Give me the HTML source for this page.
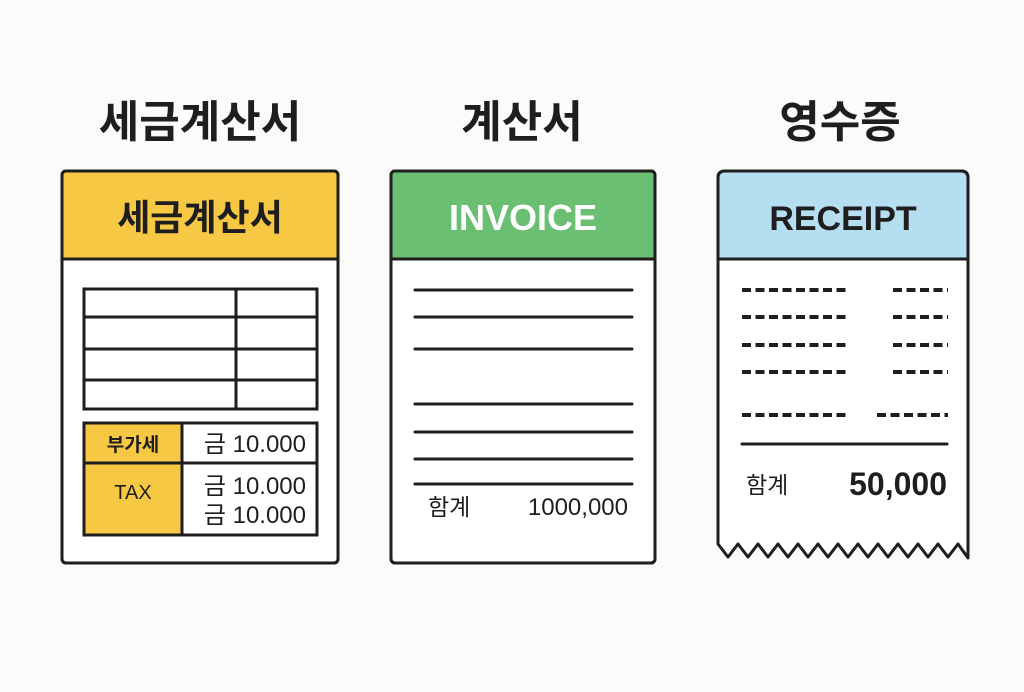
<!DOCTYPE html>
<html><head><meta charset="utf-8"><style>
html,body{margin:0;padding:0;background:#fbfbf9;}
svg{display:block;}
text{font-family:"Liberation Sans","Noto Sans CJK KR",sans-serif;fill:#1e1e1e;}
</style></head><body>
<svg width="1024" height="692" viewBox="0 0 1024 692">
<rect width="1024" height="692" fill="#fbfbf9"/>
<g font-weight="bold" font-size="44" text-anchor="middle">
<text x="200" y="137">세금계산서</text>
<text x="522" y="137">계산서</text>
<text x="840" y="137">영수증</text>
</g>
<g stroke="#1e1e1e" stroke-width="3" stroke-linecap="round">
<rect x="62" y="171" width="276" height="392" rx="4" fill="#fff"/>
<path d="M63.5 172.5 H336.5 V259 H63.5 Z" fill="#f7c843" stroke="none"/>
<rect x="62" y="171" width="276" height="392" rx="4" fill="none"/>
<line x1="62" y1="259" x2="338" y2="259"/>
<rect x="84" y="289" width="233" height="120" fill="none"/>
<line x1="236" y1="289" x2="236" y2="409"/>
<line x1="84" y1="317" x2="317" y2="317"/>
<line x1="84" y1="349" x2="317" y2="349"/>
<line x1="84" y1="380" x2="317" y2="380"/>
<rect x="84" y="423" width="98" height="112" fill="#f7c843"/>
<rect x="84" y="423" width="233" height="112" fill="none"/>
<line x1="182" y1="423" x2="182" y2="535"/>
<line x1="84" y1="463" x2="317" y2="463"/>
<rect x="391" y="171" width="264" height="392" rx="4" fill="#fff"/>
<rect x="392.5" y="172.5" width="261" height="86.5" fill="#6bbf72" stroke="none"/>
<rect x="391" y="171" width="264" height="392" rx="4" fill="none"/>
<line x1="391" y1="259" x2="655" y2="259"/>
<line x1="415" y1="290" x2="632" y2="290"/>
<line x1="415" y1="317" x2="632" y2="317"/>
<line x1="415" y1="349" x2="632" y2="349"/>
<line x1="415" y1="404" x2="632" y2="404"/>
<line x1="415" y1="432" x2="632" y2="432"/>
<line x1="415" y1="459" x2="632" y2="459"/>
<line x1="415" y1="484" x2="632" y2="484"/>
<path d="M718 178 Q718 171 725 171 H961 Q968 171 968 178 V558 L958 544 L948 557 L938 544 L928 557 L918 544 L908 557 L898 544 L888 557 L878 544 L868 557 L858 544 L848 557 L838 544 L828 557 L818 544 L808 557 L798 544 L788 557 L778 544 L768 557 L758 544 L748 557 L738 544 L728 557 L718 544 Z" fill="#fff" stroke-linejoin="round"/>
<path d="M719.5 172.5 H966.5 V259 H719.5 Z" fill="#b5dff0" stroke="none"/>
<path d="M718 259 V178 Q718 171 725 171 H961 Q968 171 968 178 V259 Z" fill="none"/>
<g stroke-dasharray="9 4.5" stroke-width="4" stroke-linecap="butt">
<line x1="742" y1="290" x2="848" y2="290"/><line x1="893" y1="290" x2="948" y2="290"/>
<line x1="742" y1="317" x2="848" y2="317"/><line x1="893" y1="317" x2="948" y2="317"/>
<line x1="742" y1="345" x2="848" y2="345"/><line x1="893" y1="345" x2="948" y2="345"/>
<line x1="742" y1="372" x2="848" y2="372"/><line x1="893" y1="372" x2="948" y2="372"/>
<line x1="742" y1="415" x2="848" y2="415"/><line x1="877" y1="415" x2="948" y2="415"/>
</g>
<line x1="742" y1="444" x2="947" y2="444"/>
</g>
<text x="200" y="230" font-size="36" font-weight="bold" text-anchor="middle">세금계산서</text>
<text x="523" y="230" font-size="36" font-weight="bold" text-anchor="middle" style="fill:#fff">INVOICE</text>
<text x="843" y="230" font-size="34" font-weight="bold" text-anchor="middle">RECEIPT</text>
<text x="133" y="451" font-size="19" font-weight="bold" text-anchor="middle">부가세</text>
<text x="133" y="499" font-size="20" text-anchor="middle">TAX</text>
<g font-size="24" text-anchor="end">
<text x="306" y="452">금 10.000</text>
<text x="306" y="494">금 10.000</text>
<text x="306" y="523">금 10.000</text>
</g>
<text x="428" y="515" font-size="23">함계</text>
<text x="628" y="515" font-size="24" text-anchor="end">1000,000</text>
<text x="746" y="493" font-size="23">함계</text>
<text x="947" y="495" font-size="32" font-weight="bold" text-anchor="end">50,000</text>
</svg>
</body></html>
